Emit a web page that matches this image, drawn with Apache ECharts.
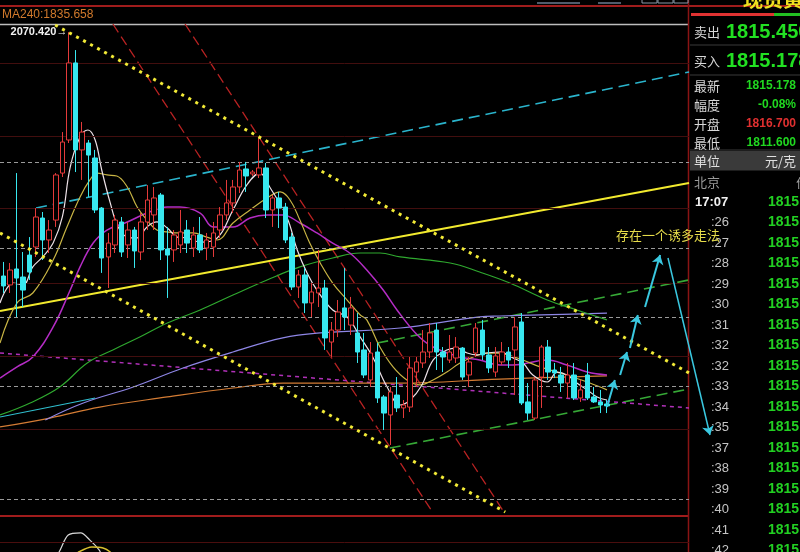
<!DOCTYPE html>
<html><head><meta charset="utf-8">
<script src="https://cdn.jsdelivr.net/npm/echarts/dist/echarts.min.js"></script>
<style>html,body{margin:0;padding:0;background:#000;}#c{width:800px;height:552px;}</style>
</head><body><div id="c"></div><script>
// ---------- DATA ----------
// candle slots on the x axis (93 candles + empty room on the right)
const slotCount = 105;
const categories = Array.from({length: slotCount}, (_, i) => String(i));
// [open, close, low, high]
const candles = [
[1903.9,1897.1,1892.3,1913.5],[1897.8,1908.0,1892.3,1912.8],[1908.7,1902.5,1875.9,1974.2],[1903.2,1894.3,1882.7,1920.3],
[1918.2,1906.6,1901.2,1930.5],[1923.7,1944.2,1916.9,1950.3],[1943.5,1928.5,1914.8,1947.6],[1928.5,1935.3,1919.6,1942.1],
[1942.1,1972.9,1937.4,1974.2],[1974.2,1995.4,1971.5,2002.2],[1996.8,2049.4,1994.7,2070.42],[2049.4,1990.0,1974.9,2058.2],
[1990.0,2002.2,1969.5,2009.1],[1994.7,1986.5,1957.9,1996.8],[1984.5,1949.0,1946.9,1990.0],[1950.3,1916.2,1906.0,1951.0],
[1916.9,1926.4,1895.7,1933.3],[1925.1,1942.1,1919.6,1945.6],[1940.8,1920.3,1916.9,1944.2],[1925.1,1935.3,1916.2,1940.8],
[1935.3,1921.0,1909.4,1937.4],[1920.3,1940.8,1914.8,1946.9],[1940.8,1955.8,1935.3,1966.0],[1945.6,1957.2,1935.3,1964.7],
[1959.2,1921.7,1914.8,1960.6],[1922.3,1918.2,1888.9,1937.4],[1921.7,1931.9,1913.5,1935.3],[1925.1,1934.0,1919.6,1949.0],
[1935.3,1926.4,1919.6,1942.1],[1923.0,1931.9,1916.9,1937.4],[1931.9,1921.7,1919.6,1944.2],[1923.0,1928.5,1914.8,1933.3],
[1923.7,1933.3,1916.9,1940.8],[1935.3,1945.6,1929.9,1951.0],[1945.6,1953.8,1942.1,1969.5],[1953.8,1964.7,1946.9,1969.5],
[1964.7,1976.3,1960.6,1981.8],[1977.0,1972.2,1961.3,1981.8],[1973.6,1974.9,1972.2,1976.3],[1972.9,1977.7,1970.8,1998.2],
[1977.7,1949.0,1943.5,1981.1],[1949.0,1957.2,1937.4,1959.2],[1957.2,1950.3,1936.7,1961.3],[1951.0,1928.5,1926.4,1953.8],
[1930.5,1896.4,1894.3,1933.3],[1896.4,1904.6,1888.9,1908.0],[1904.6,1885.5,1878.6,1909.4],[1885.5,1893.0,1875.9,1899.1],
[1892.3,1895.7,1882.7,1921.7],[1895.7,1861.6,1853.4,1901.2],[1858.8,1867.0,1848.6,1872.5],[1867.0,1879.3,1862.2,1887.5],
[1882.1,1875.9,1867.0,1909.4],[1870.4,1882.1,1863.6,1889.6],[1865.0,1852.0,1844.5,1878.6],[1853.4,1836.3,1834.2,1865.0],
[1832.9,1851.3,1828.1,1858.8],[1852.0,1820.6,1817.2,1858.1],[1821.3,1810.3,1798.7,1822.6],[1809.0,1824.7,1788.5,1828.1],
[1822.6,1813.8,1811.0,1834.9],[1813.8,1815.8,1806.9,1819.2],[1814.4,1841.1,1811.0,1848.6],[1838.3,1845.2,1828.1,1848.6],
[1844.5,1852.0,1841.1,1867.0],[1852.0,1865.0,1847.9,1871.8],[1867.0,1852.0,1839.7,1871.8],[1852.0,1848.6,1838.3,1855.4],
[1846.5,1852.0,1844.5,1863.6],[1847.9,1855.4,1844.5,1862.2],[1854.7,1834.9,1832.9,1855.4],[1836.3,1845.2,1828.1,1848.6],
[1851.3,1868.4,1848.6,1871.8],[1867.0,1850.0,1846.5,1873.9],[1850.0,1841.1,1837.7,1855.4],[1838.3,1849.3,1834.9,1855.4],
[1845.2,1852.0,1843.1,1858.8],[1852.0,1846.5,1841.1,1855.4],[1853.4,1869.1,1822.6,1875.9],[1872.5,1817.2,1815.8,1878.6],
[1817.9,1810.3,1805.6,1830.8],[1806.9,1832.9,1805.6,1834.9],[1834.9,1855.4,1813.8,1856.8],[1855.4,1838.3,1832.9,1860.2],
[1839.7,1837.7,1834.2,1844.5],[1836.3,1830.8,1824.7,1841.8],[1830.8,1836.3,1820.6,1844.5],[1836.3,1820.6,1819.2,1844.5],
[1820.6,1826.1,1817.9,1832.9],[1836.3,1820.6,1819.2,1844.5],[1821.3,1817.9,1817.2,1828.1],[1817.9,1815.8,1810.3,1826.1],
[1816.5,1815.2,1810.3,1819.2]
];
// moving averages: [slot, price]
const ma5 = [[-0.5,1885.5],[1.5,1899.1],[3,1897.8],[4.5,1910.1],[6,1916.9],[7.6,1926.4],[9,1944.2],[10.2,1978.3],[11.7,1998.8],[12.9,2003.6],[14,1996.8],[15,1976.3],[16.3,1953.8],[17.5,1937.4],[18.9,1930.5],[20.4,1929.9],[21.9,1937.4],[23.4,1940.8],[25,1936.7],[26.5,1930.5],[28,1929.9],[30,1927.1],[32.6,1929.9],[35,1949.0],[37.1,1966.0],[39.1,1974.2],[40.6,1964.7],[43.2,1944.2],[44.8,1921.7],[46.3,1906.0],[47.8,1894.3],[50.2,1880.7],[52.4,1875.9],[54.4,1862.2],[56.3,1848.6],[58.5,1828.1],[60.5,1815.8],[62,1819.2],[63.8,1829.5],[65.5,1846.5],[67.6,1853.4],[69.1,1854.7],[70.7,1851.3],[72.2,1850.0],[73.7,1851.3],[75.7,1852.0],[77.7,1847.9],[79.2,1844.5],[80.7,1836.3],[82.9,1831.5],[84.4,1838.3],[85.9,1836.3],[87.4,1830.8],[89,1826.1],[90.5,1821.3],[92,1819.2]];
const ma10 = [[-0.5,1858.1],[2.1,1885.5],[4.5,1892.3],[7.6,1914.8],[9.7,1937.4],[11.7,1957.9],[13.2,1969.5],[14.3,1974.2],[15.8,1972.9],[17.3,1972.2],[18.9,1964.7],[20.4,1951.0],[21.9,1942.1],[23.4,1935.3],[25,1934.0],[26.9,1933.3],[28.9,1933.3],[31,1930.5],[32.6,1928.5],[35,1940.1],[37.6,1949.0],[40.2,1957.2],[42.2,1961.3],[43.7,1955.8],[45.2,1942.1],[46.7,1926.4],[48.3,1912.8],[50.2,1899.1],[52.4,1887.5],[54.4,1877.3],[55.4,1873.9],[57.4,1855.4],[59.4,1841.8],[61.5,1832.9],[63.5,1829.5],[65.5,1832.9],[67.6,1838.3],[69.6,1844.5],[71.6,1848.6],[73.7,1851.3],[75.7,1851.3],[76.8,1850.0],[79.2,1846.5],[81.8,1841.8],[84.4,1838.3],[86.8,1834.9],[89.4,1830.8],[92,1826.1]];
const ma20 = [[-0.5,1834.2],[2.1,1841.8],[4.5,1848.6],[7.6,1869.1],[10.2,1894.3],[11.7,1910.1],[13.7,1926.4],[15.8,1935.3],[18.9,1940.8],[21.9,1946.9],[25,1951.0],[26.9,1951.0],[30,1946.9],[32,1937.4],[35,1937.4],[37.6,1943.5],[40.2,1945.6],[42.6,1945.6],[45.2,1940.1],[47.8,1933.3],[50.2,1926.4],[52.8,1919.6],[55.4,1908.0],[57.9,1894.3],[60,1880.7],[63.1,1863.6],[65.5,1855.4],[69.6,1848.6],[72.6,1846.5],[75.7,1843.1],[77.7,1843.1],[82.9,1846.5],[85.9,1843.1],[89,1838.3],[92,1836.3]];
const ma60 = [[-0.5,1809.0],[4.1,1817.2],[8.6,1828.1],[12.8,1844.5],[16.7,1853.4],[20.8,1862.2],[25,1871.8],[30,1880.7],[35,1890.9],[40.2,1901.2],[45.2,1910.1],[50.2,1916.2],[54.4,1919.6],[57.4,1919.6],[60.5,1916.9],[68.1,1912.8],[72.6,1906.6],[77.2,1899.1],[82.9,1887.5],[87.4,1880.7],[92,1873.9]];
const ma120 = [[6.4,1805.6],[12.2,1817.2],[19.8,1828.1],[27.4,1841.1],[35,1852.0],[42.6,1861.6],[48.3,1865.0],[60.5,1868.4],[72.6,1876.0],[75.7,1876.6],[82,1877.3],[92,1878.6]];
const ma240 = [[-0.5,1800.8],[7.1,1806.9],[14.7,1814.4],[25,1821.3],[35,1827.4],[42.6,1830.8],[49.8,1830.8],[60.5,1830.8],[75.7,1833.5],[92,1835.7]];
const cyanShort = [[-0.5,1807.6],[14,1820.6]];
// drawn lines: [slot, price] end points
const cyanChannel = [[5.0,1950.3],[104.5,2043.2]];
const yellowSupport = [[-0.5,1880.0],[104.5,1967.4]];
const yellowUpper = [[7.9,2075.3],[104.5,1837.7]];
const yellowLower = [[-0.5,1933.3],[76.5,1742.7]];
const redDashA = [[16.7,2076.0],[65.5,1742.1]];
const redDashB = [[27.7,2076.0],[76.3,1742.7]];
const greenUpper = [[57.0,1858.1],[104.5,1901.2]];
const greenLower = [[58.9,1786.4],[104.5,1826.7]];
const magentaDots = [[-0.5,1851.3],[104.5,1813.8]];
const arrowPath = [
  [[92.0,1814.4],[93.2,1832.9]],
  [[94.0,1836.3],[95.05,1852.0]],
  [[95.5,1854.7],[96.7,1877.3]],
  [[97.8,1882.7],[100.1,1918.2]]
];
const fallLine = [[101.3,1916.2],[107.7,1795.3]];
// price levels of the horizontal guides
const dashedLevels = [1981.8,1923.0,1875.9,1828.8,1751.6];
const redLevels = [2049.4,1999.5,1950.3,1899.1,1849.3,1799.4];
// lower indicator panel
const subWhite = [[8,-10],[8.5,0],[9.9,47],[11.8,53],[13.2,33],[14.6,6],[15,-10]];
const subYellow = [[11,-10],[11.5,0],[13.5,14],[15.2,11],[16.3,0],[16.6,-10]];
// texts
const highLabel = '2070.420→';
const maLabel = 'MA240:1835.658';
const noteText = '存在一个诱多走法';
const quoteRows = [['最新','1815.178','#20d820'],['幅度','-0.08%','#20d820'],['开盘','1816.700','#e03030'],['最低','1811.600','#20d820']];
const tickTimes = ['17:07',':26',':27',':28',':29',':30',':31',':32',':32',':33',':34',':35',':37',':38',':39',':40',':41',':42'];
const tickPrice = '1815.';

// ---------- CHART ----------
const chart = echarts.init(document.getElementById('c'), null, {renderer:'canvas'});
const trend = (data, color, width, type, z) => ({
  type:'line', xAxisIndex:1, yAxisIndex:0, data, showSymbol:false, symbol:'none', clip:true, silent:true,
  lineStyle:{color, width, type}, z: z || 3, animation:false
});
const ma = (data, color, width) => ({
  type:'line', xAxisIndex:1, yAxisIndex:0, data, smooth:0.4, showSymbol:false, symbol:'none', clip:true,
  lineStyle:{color, width: width || 1.2}, z:4, animation:false
});
const cjk = '"Noto Sans CJK SC", sans-serif';
const num = '"Liberation Sans", Arial, sans-serif';
const g = [];
// frame lines
g.push({type:'line', shape:{x1:0,y1:6,x2:800,y2:6}, style:{stroke:'#a01c1c', lineWidth:2}});
g.push({type:'line', shape:{x1:0,y1:24.5,x2:688,y2:24.5}, style:{stroke:'#bdbdbd', lineWidth:1.5}});
g.push({type:'line', shape:{x1:0,y1:516,x2:688,y2:516}, style:{stroke:'#a01c1c', lineWidth:2}});
g.push({type:'line', shape:{x1:688.5,y1:0,x2:688.5,y2:552}, style:{stroke:'#8a1414', lineWidth:1.5}});
// tool buttons at top
g.push({type:'line', shape:{x1:537,y1:3,x2:580,y2:3}, style:{stroke:'#9fb8d8', lineWidth:1}});
g.push({type:'line', shape:{x1:598,y1:3,x2:621,y2:3}, style:{stroke:'#9fb8d8', lineWidth:1}});
g.push({type:'rect', shape:{x:642,y:-4,width:15,height:7}, style:{fill:'none', stroke:'#8a98a8'}});
g.push({type:'rect', shape:{x:658,y:-4,width:15,height:7}, style:{fill:'none', stroke:'#8a98a8'}});
g.push({type:'rect', shape:{x:674,y:-4,width:14,height:7}, style:{fill:'none', stroke:'#8a98a8'}});
// labels
g.push({type:'text', x:2, y:15, style:{text:maLabel, fill:'#d27a2c', font:'12px '+num, textVerticalAlign:'middle'}});
g.push({type:'text', x:616, y:235, z:10, style:{text:noteText, fill:'#e6dc4a', font:'13px '+cjk, textVerticalAlign:'middle'}});
// right panel
g.push({type:'text', x:743, y:9, style:{text:'现货黄金', fill:'#f0e020', font:'bold 20px '+cjk, textVerticalAlign:'bottom'}});
g.push({type:'rect', shape:{x:691,y:13,width:83,height:3}, style:{fill:'#e03232'}});
g.push({type:'rect', shape:{x:774,y:13,width:26,height:3}, style:{fill:'#22c022'}});
[45,75,150,170].forEach(y => g.push({type:'line', shape:{x1:690,y1:y,x2:800,y2:y}, style:{stroke:'#3a3a3a', lineWidth:1}}));
g.push({type:'rect', shape:{x:690,y:151,width:110,height:19}, style:{fill:'#3a3a3a'}});
g.push({type:'text', x:694, y:32, style:{text:'卖出', fill:'#d8d8d8', font:'13px '+cjk, textVerticalAlign:'middle'}});
g.push({type:'text', x:726, y:32, style:{text:'1815.450', fill:'#22e022', font:'bold 20px '+num, textVerticalAlign:'middle'}});
g.push({type:'text', x:694, y:61, style:{text:'买入', fill:'#d8d8d8', font:'13px '+cjk, textVerticalAlign:'middle'}});
g.push({type:'text', x:726, y:61, style:{text:'1815.178', fill:'#22e022', font:'bold 20px '+num, textVerticalAlign:'middle'}});
quoteRows.forEach((r, i) => {
  const y = 86 + i * 19;
  g.push({type:'text', x:694, y, style:{text:r[0], fill:'#d8d8d8', font:'13px '+cjk, textVerticalAlign:'middle'}});
  g.push({type:'text', x:796, y, style:{text:r[1], fill:r[2], font:'bold 12px '+num, textAlign:'right', textVerticalAlign:'middle'}});
});
g.push({type:'text', x:694, y:161, style:{text:'单位', fill:'#e0e0e0', font:'13px '+cjk, textVerticalAlign:'middle'}});
g.push({type:'text', x:796, y:161, style:{text:'元/克', fill:'#e0e0e0', font:'13px '+cjk, textAlign:'right', textVerticalAlign:'middle'}});
g.push({type:'text', x:694, y:182, style:{text:'北京', fill:'#9a9a9a', font:'13px '+cjk, textVerticalAlign:'middle'}});
g.push({type:'text', x:796, y:182, style:{text:'价', fill:'#9a9a9a', font:'13px '+cjk, textVerticalAlign:'middle'}});
tickTimes.forEach((t, i) => {
  const y = 202 + i * 20.5;
  g.push({type:'text', x: i === 0 ? 695 : 711, y, style:{text:t, fill: i === 0 ? '#f0f0f0' : '#c4c4c4', font:(i === 0 ? 'bold ' : '') + '13px '+num, textVerticalAlign:'middle'}});
  g.push({type:'text', x:768, y, style:{text:tickPrice, fill:'#22d022', font:'bold 14px '+num, textVerticalAlign:'middle'}});
});

const option = {
  backgroundColor:'#000',
  animation:false,
  grid:[{left:0, top:24, width:689, height:492}, {left:0, top:516, width:689, height:36}],
  xAxis:[
    {type:'category', gridIndex:0, data:categories, boundaryGap:true, show:false},
    {type:'value', gridIndex:0, min:-0.5, max:slotCount-0.5, show:false},
    {type:'value', gridIndex:1, min:-0.5, max:slotCount-0.5, show:false}
  ],
  yAxis:[
    {type:'value', gridIndex:0, min:1740, max:2076, show:false, splitLine:{show:false}},
    {type:'value', gridIndex:1, min:0, max:100, show:false, splitLine:{show:false}}
  ],
  graphic:g,
  series:[
    {type:'line', xAxisIndex:1, yAxisIndex:0, data:[], z:1, silent:true,
     markLine:{silent:true, symbol:'none', label:{show:false}, animation:false,
       data: dashedLevels.map(v => ({yAxis:v, lineStyle:{color:'#9a9a9a', type:[4,3], width:1}}))
         .concat(redLevels.map(v => ({yAxis:v, lineStyle:{color:'#420e0e', type:'solid', width:1}})))}},
    ma(ma240, '#d47c34'),
    ma(ma120, '#8e86e6'),
    ma(ma60, '#2fa82f'),
    ma(cyanShort, '#30c0d0'),
    ma(ma20, '#b42cc4', 1.5),
    trend(redDashA, '#b82222', 1.3, [10,5]),
    trend(redDashB, '#b82222', 1.3, [10,5]),
    {type:'candlestick', xAxisIndex:0, yAxisIndex:0, data:candles, barWidth:5, z:5,
     itemStyle:{color:'#000', color0:'#38e8f0', borderColor:'#e43a3a', borderColor0:'#38e8f0', borderWidth:1},
     markPoint:{symbol:'circle', symbolSize:1, itemStyle:{color:'transparent'}, silent:true,
       data:[{coord:[10, 2070.42]}],
       label:{show:true, position:'left', distance:1, formatter:highLabel, color:'#f2f2f2', fontWeight:'bold', fontSize:11, fontFamily:'"Liberation Sans", Arial, sans-serif'}}},
    ma(ma10, '#c8b444'),
    ma(ma5, '#ece0e6'),
    trend(cyanChannel, '#2ab4cc', 1.6, [11,6]),
    trend(yellowSupport, '#f2ea2e', 2.2, 'solid'),
    trend(yellowUpper, '#f2ea36', 3, [3,5], 6),
    trend(yellowLower, '#f2ea36', 3, [3,5], 6),
    trend(greenUpper, '#36a836', 1.6, [11,6]),
    trend(greenLower, '#36a836', 1.6, [11,6]),
    trend(magentaDots, '#b030b8', 1.5, [4,4]),
    {type:'lines', coordinateSystem:'cartesian2d', xAxisIndex:1, yAxisIndex:0, z:7, silent:true,
     symbol:['none','arrow'], symbolSize:9,
     lineStyle:{color:'#3ac8e0', width:2, opacity:1},
     data: arrowPath.map(c => ({coords:c}))},
    {type:'lines', coordinateSystem:'cartesian2d', xAxisIndex:1, yAxisIndex:0, z:7, silent:true, clip:false,
     symbol:['none','arrow'], symbolSize:9,
     lineStyle:{color:'#3ac8e0', width:1.5, opacity:1},
     data:[{coords:fallLine}]},
    {type:'line', xAxisIndex:2, yAxisIndex:1, data:subWhite, smooth:0.3, showSymbol:false, clip:true,
     lineStyle:{color:'#d8d8d8', width:1.2},
     markLine:{silent:true, symbol:'none', label:{show:false}, data:[{yAxis:28}], lineStyle:{color:'#4a0e0e', type:'solid', width:1}}},
    {type:'line', xAxisIndex:2, yAxisIndex:1, data:subYellow, smooth:0.3, showSymbol:false, clip:true,
     lineStyle:{color:'#d8c030', width:1.5}}
  ]
};
chart.setOption(option);
</script></body></html>
